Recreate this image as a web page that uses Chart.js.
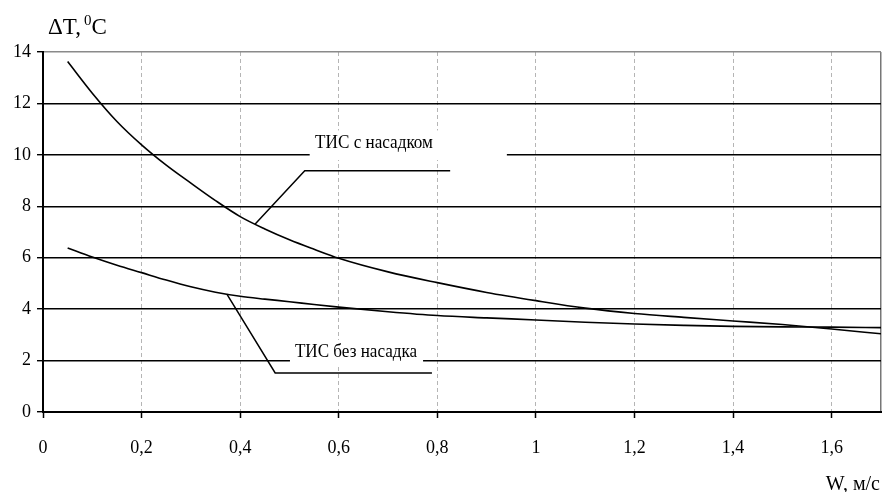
<!DOCTYPE html>
<html>
<head>
<meta charset="utf-8">
<script src="https://cdn.jsdelivr.net/npm/chart.js@4"></script>
<style>
html,body{margin:0;padding:0;background:#fff;}
#wrap{width:883px;height:492px;}
</style>
</head>
<body>
<div id="wrap"><canvas id="c" width="883" height="492"></canvas></div>
<script>
// ---- data ----
const speed = [0.05,0.1,0.15,0.2,0.25,0.3,0.35,0.4,0.45,0.5,0.55,0.6,0.7,0.8,0.9,1.0,1.1,1.2,1.3,1.4,1.5,1.6,1.7];
const dT_withNozzle = [13.63,12.4,11.3,10.39,9.6,8.9,8.22,7.6,7.12,6.7,6.33,5.98,5.45,5.03,4.65,4.33,4.04,3.83,3.68,3.54,3.4,3.23,3.04];
const dT_noNozzle   = [6.38,6.03,5.71,5.42,5.13,4.87,4.66,4.5,4.39,4.29,4.18,4.08,3.9,3.75,3.66,3.58,3.49,3.42,3.37,3.33,3.31,3.3,3.28];
const xTickValues = [0,0.2,0.4,0.6,0.8,1.0,1.2,1.4,1.6];
const yTickValues = [0,2,4,6,8,10,12,14];
const xMax = 1.7, yMax = 14;
const seriesNames = ['ТИС с насадком','ТИС без насадка'];
const yTitle = ['ΔT,', '0', 'C'];
const xTitle = 'W, м/с';

// annotation anchors (data units)
const labelWith    = {text: seriesNames[0], x0: 0.552, x1: 0.791, y: 10.45, box: [0.541, 0.941, 10.95, 9.8],
                      leader: [[0.43, 7.3], [0.531, 9.38], [0.826, 9.38]]};
const labelWithout = {text: seriesNames[1], x0: 0.511, x1: 0.759, y: 2.33, box: [0.501, 0.771, 2.8, 1.8],
                      leader: [[0.373, 4.58], [0.471, 1.52], [0.789, 1.52]]};

const fmt = v => String(Number(v.toFixed(1))).replace('.', ',');
const serif = '"Liberation Serif","DejaVu Serif",serif';

const annot = {
  id: 'annot',
  afterDatasetsDraw(chart) {
    const ctx = chart.ctx, xs = chart.scales.x, ys = chart.scales.y;
    const px = v => xs.getPixelForValue(v), py = v => ys.getPixelForValue(v);
    [labelWith, labelWithout].forEach(L => {
      ctx.save();
      ctx.fillStyle = '#fff';
      ctx.fillRect(px(L.box[0]), py(L.box[2]), px(L.box[1]) - px(L.box[0]), py(L.box[3]) - py(L.box[2]));
      ctx.strokeStyle = '#000';
      ctx.lineWidth = 1.5;
      ctx.beginPath();
      L.leader.forEach((p, i) => i ? ctx.lineTo(px(p[0]), py(p[1])) : ctx.moveTo(px(p[0]), py(p[1])));
      ctx.stroke();
      ctx.font = '19px ' + serif;
      ctx.fillStyle = '#000';
      ctx.textBaseline = 'middle';
      ctx.textAlign = 'left';
      const w = ctx.measureText(L.text).width;
      const target = px(L.x1) - px(L.x0);
      ctx.translate(px(L.x0), py(L.y));
      ctx.scale(target / w, 1);
      ctx.fillText(L.text, 0, 0);
      ctx.restore();
    });
  },
  afterDraw(chart) {
    const ctx = chart.ctx, a = chart.chartArea;
    ctx.save();
    ctx.fillStyle = '#000';
    ctx.textBaseline = 'alphabetic';
    ctx.textAlign = 'left';
    let x = a.left + 5;
    const base = a.top - 18;
    ctx.font = '23px ' + serif;
    ctx.fillText(yTitle[0], x, base);
    x += ctx.measureText(yTitle[0]).width + 3;
    ctx.font = '15px ' + serif;
    ctx.fillText(yTitle[1], x, base - 9);
    x += ctx.measureText(yTitle[1]).width;
    ctx.font = '23px ' + serif;
    ctx.fillText(yTitle[2], x, base);
    ctx.font = '20px ' + serif;
    ctx.textAlign = 'right';
    ctx.fillText(xTitle, a.right - 1, chart.height - 2);
    ctx.restore();
  }
};

new Chart(document.getElementById('c'), {
  type: 'line',
  data: {
    datasets: [
      {label: seriesNames[0], data: speed.map((s, i) => ({x: s, y: dT_withNozzle[i]})),
       borderColor: '#000', borderWidth: 1.6, pointRadius: 0, cubicInterpolationMode: 'monotone', fill: false},
      {label: seriesNames[1], data: speed.map((s, i) => ({x: s, y: dT_noNozzle[i]})),
       borderColor: '#000', borderWidth: 1.6, pointRadius: 0, cubicInterpolationMode: 'monotone', fill: false}
    ]
  },
  options: {
    responsive: false,
    animation: false,
    devicePixelRatio: 1,
    layout: {padding: {top: 52, right: 2, left: 0, bottom: 0}},
    plugins: {legend: {display: false}, tooltip: {enabled: false}},
    scales: {
      x: {
        type: 'linear', min: 0, max: xMax,
        afterBuildTicks: s => { s.ticks = xTickValues.concat([xMax]).map(v => ({value: v})); },
        afterFit: s => { s.height = 80; s.paddingRight = 0; s.paddingLeft = 0; },
        grid: {
          color: c => c.tick.value === 0 ? 'rgba(0,0,0,0)' : (c.tick.value === xMax ? '#777' : '#b5b5b5'),
          lineWidth: c => c.tick.value === xMax ? 1.5 : 1,
          tickLength: 6,
          tickColor: c => c.tick.value === xMax ? 'rgba(0,0,0,0)' : '#000',
          tickWidth: 1.5
        },
        border: {color: '#000', width: 2, dash: c => (c.tick && c.tick.value === xMax) ? [] : [4, 3]},
        ticks: {
          callback: v => v === xMax ? '' : fmt(v),
          color: '#000', font: {family: serif, size: 18}, padding: 19, maxRotation: 0, autoSkip: false
        }
      },
      y: {
        type: 'linear', min: 0, max: yMax,
        afterBuildTicks: s => { s.ticks = yTickValues.map(v => ({value: v})); },
        afterFit: s => { s.width = 43; s.paddingTop = 0; s.paddingBottom = 0; },
        grid: {
          color: c => c.tick.value === yMax ? '#8a8a8a' : '#000',
          lineWidth: 1.4,
          tickLength: 6,
          tickColor: '#000',
          tickWidth: 1.4
        },
        border: {color: '#000', width: 2},
        ticks: {
          callback: v => fmt(v),
          color: '#000', font: {family: serif, size: 18}, padding: 6
        }
      }
    }
  },
  plugins: [annot]
});
</script>
</body>
</html>
